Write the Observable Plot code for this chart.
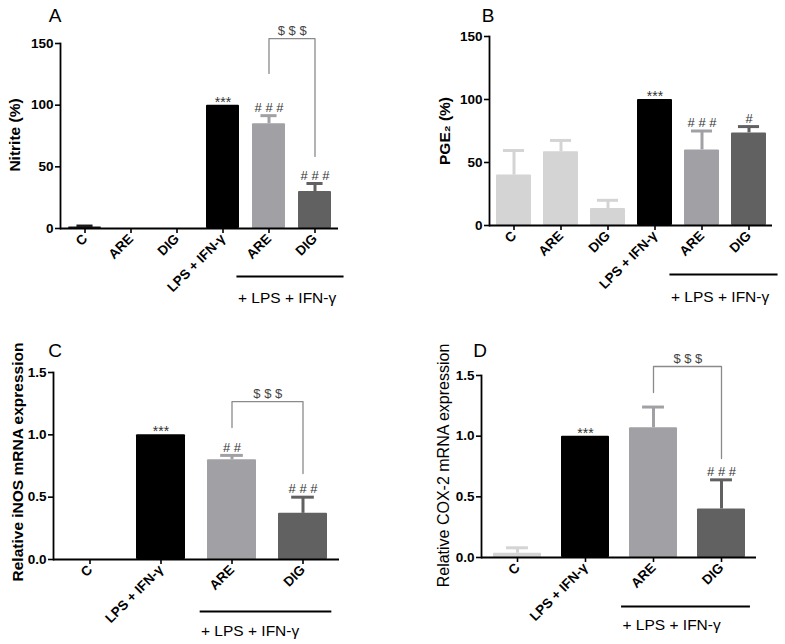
<!DOCTYPE html>
<html><head><meta charset="utf-8">
<script src="https://cdn.jsdelivr.net/npm/d3@7"></script>
<script src="https://cdn.jsdelivr.net/npm/@observablehq/plot@0.6"></script>
<style>
body{margin:0;background:#fff;}
#root{position:relative;width:785px;height:644px;font-family:"Liberation Sans",Arial,sans-serif;overflow:hidden;}
.panel{position:absolute;}
.letter{position:absolute;font-size:19px;line-height:1;transform:translate(-50%,-50%);color:#000;}
</style></head><body><div id="root"></div>
<script>
// ---------- data ----------
const idsSix = ["C","ARE","DIG","LPS","LPS_ARE","LPS_DIG"];
const labelsSix = ["C","ARE","DIG","LPS + IFN-γ","ARE","DIG"];
const idsFour = ["C","LPS","LPS_ARE","LPS_DIG"];
const labelsFour = ["C","LPS + IFN-γ","ARE","DIG"];

const nitriteMean = [1.2, 0, 0, 100, 85, 30];
const nitriteErr  = [0.8, 0, 0, 0, 6.5, 6.5];
const nitriteSig  = ["", "", "", "***", "# # #", "# # #"];
const nitriteColors = ["#1a1a1a","#d4d4d4","#d4d4d4","#000000","#a1a1a5","#616161"];

const pgeMean = [40, 58.5, 13.5, 100, 60, 73.5];
const pgeErr  = [19.5, 9, 6.5, 0, 15, 5];
const pgeSig  = ["", "", "", "***", "# # #", "#"];
const pgeColors = ["#d4d4d4","#d4d4d4","#d4d4d4","#000000","#a1a1a5","#616161"];

const inosMean = [0, 1.0, 0.80, 0.37];
const inosErr  = [0, 0, 0.035, 0.13];
const inosSig  = ["", "***", "# #", "# # #"];
const coxMean = [0.035, 1.0, 1.07, 0.40];
const coxErr  = [0.045, 0, 0.17, 0.24];
const coxSig  = ["", "***", "", "# # #"];
const fourColors = ["#d4d4d4","#000000","#a1a1a5","#616161"];

const compNitrite = {from:"LPS_ARE", to:"LPS_DIG", top:154, leftEnd:125.7, rightEnd:58.4, label:"$ $ $"};
const compInos = {from:"LPS_ARE", to:"LPS_DIG", top:1.267, leftEnd:1.059, rightEnd:0.69, label:"$ $ $"};
const compCox = {from:"LPS_ARE", to:"LPS_DIG", top:1.574, leftEnd:1.36, rightEnd:0.816, label:"$ $ $"};

const groupLabel = "+ LPS + IFN-γ";
const groupFrom = "LPS_ARE", groupTo = "LPS_DIG";

const ticks150 = [0, 50, 100, 150];
const ticks15 = [0, 0.5, 1.0, 1.5];

// ---------- panels ----------
const panels = [
  {letter:"A", lx:55, ly:15, left:0, top:0, width:390, height:310, ml:60, mr:52, mt:43, mb:82,
   ids:idsSix, labels:labelsSix, mean:nitriteMean, err:nitriteErr, sig:nitriteSig, colors:nitriteColors,
   ymax:150, ticks:ticks150, fmt:d3.format("d"), pad:0.29, cap:16, comp:compNitrite,
   title:"Nitrite (%)", titleBold:true, titleDx:-45, titleDy:-1, lineDy:48, textDy:70},
  {letter:"B", lx:488, ly:15, left:390, top:0, width:395, height:310, ml:99, mr:13, mt:36, mb:85,
   ids:idsSix, labels:labelsSix, mean:pgeMean, err:pgeErr, sig:pgeSig, colors:pgeColors,
   ymax:150, ticks:ticks150, fmt:d3.format("d"), pad:0.26, cap:21, comp:null,
   title:"PGE₂ (%)", titleBold:true, titleDx:-44, titleDy:0, lineDy:49, textDy:72},
  {letter:"C", lx:55, ly:350, left:0, top:320, width:390, height:324, ml:53, mr:51, mt:52, mb:85,
   ids:idsFour, labels:labelsFour, mean:inosMean, err:inosErr, sig:inosSig, colors:fourColors,
   ymax:1.5, ticks:ticks15, fmt:d3.format(".1f"), pad:0.31, cap:23, comp:compInos,
   title:"Relative iNOS mRNA expression", titleBold:true, titleDx:-35, titleDy:-4, lineDy:52, textDy:72},
  {letter:"D", lx:480, ly:350, left:390, top:320, width:395, height:324, ml:91, mr:29, mt:55, mb:87,
   ids:idsFour, labels:labelsFour, mean:coxMean, err:coxErr, sig:coxSig, colors:fourColors,
   ymax:1.5, ticks:ticks15, fmt:d3.format(".1f"), pad:0.30, cap:22, comp:compCox,
   title:"Relative COX-2 mRNA expression", titleBold:false, titleDx:-38, titleDy:-1, lineDy:49, textDy:68}
];

const root = document.getElementById("root");

for (const p of panels) {
  const rows = p.ids.map((id, i) => ({id, mean:p.mean[i], err:p.err[i], sig:p.sig[i], color:p.colors[i]}));
  const labelOf = new Map(p.ids.map((id, i) => [id, p.labels[i]]));
  const n = p.ids.length;
  const step = (p.width - p.ml - p.mr) / n;
  const bw = step * (1 - p.pad);
  const capInset = (bw - p.cap) / 2;
  const withErr = rows.filter(d => d.err > 0);
  const marks = [
    Plot.barY(rows.filter(d => d.mean > 0), {x:"id", y:"mean", fill:"color", rx:1}),
    Plot.ruleX(withErr, {x:"id", y1:"mean", y2:d => d.mean + d.err, stroke:"color", strokeWidth:3}),
    Plot.tickY(withErr, {x:"id", y:d => d.mean + d.err, stroke:"color", strokeWidth:3, insetLeft:capInset, insetRight:capInset}),
    Plot.text(rows.filter(d => d.sig.startsWith("#")), {x:"id", y:d => d.mean + d.err, text:"sig", dy:-8, fontSize:13, fill:"#333", fontWeight:"normal"}),
    Plot.text(rows.filter(d => d.sig.startsWith("*")), {x:"id", y:d => d.mean + d.err, text:"sig", dy:-3, fontSize:14, fill:"#333", fontWeight:"normal"}),
    Plot.ruleY([0], {stroke:"#000", strokeWidth:1.8}),
    Plot.frame({anchor:"left", stroke:"#000", strokeWidth:1.8}),
    Plot.axisY({ticks:p.ticks, tickFormat:p.fmt, tickSize:5, tickPadding:2, label:null, fontSize:13.5, fontWeight:"bold", strokeWidth:1.6}),
    Plot.axisX({tickRotate:-45, tickSize:5, tickPadding:3, tickFormat:id => labelOf.get(id), label:null, fontSize:13.5, fontWeight:"bold", strokeWidth:1.6}),
    Plot.text([p.title], {frameAnchor:"left", textAnchor:"middle", rotate:-90, dx:p.titleDx, dy:p.titleDy, text:d => d, fontSize:p.titleBold ? 15.5 : 16, fontWeight:p.titleBold ? "bold" : "normal", fill:"#000"}),
    // treatment group underline and label
    Plot.ruleY([0], {x1:() => groupFrom, x2:() => groupTo, dy:p.lineDy, stroke:"#000", strokeWidth:2, insetLeft:bw/2 - 32, insetRight:bw/2 - 29}),
    Plot.text([groupLabel], {x:() => groupFrom, y:() => 0, dy:p.textDy, dx:-31, text:d => d, textAnchor:"start", fontSize:15.5, fontWeight:"normal", fill:"#000"})
  ];
  if (p.comp) {
    const c = p.comp;
    const pts = [
      {x:c.from, y:c.leftEnd}, {x:c.from, y:c.top}, {x:c.to, y:c.top}, {x:c.to, y:c.rightEnd}
    ];
    marks.push(Plot.line(pts, {x:"x", y:"y", stroke:"#8a8a8a", strokeWidth:1.3}));
    marks.push(Plot.text([c], {x:"from", y:"top", text:"label", dx:step/2, dy:-8, fontSize:13, fill:"#444", fontWeight:"normal"}));
  }
  const svg = Plot.plot({
    width:p.width, height:p.height,
    marginLeft:p.ml, marginRight:p.mr, marginTop:p.mt, marginBottom:p.mb,
    style:{fontFamily:"'Liberation Sans', Arial, sans-serif", background:"#fff", color:"#000", overflow:"visible"},
    x:{type:"band", domain:p.ids, paddingInner:p.pad, paddingOuter:p.pad/2},
    y:{domain:[0, p.ymax]},
    color:{type:"identity"},
    marks
  });
  const wrap = document.createElement("div");
  wrap.className = "panel";
  wrap.style.left = p.left + "px";
  wrap.style.top = p.top + "px";
  wrap.appendChild(svg);
  root.appendChild(wrap);
  const lt = document.createElement("div");
  lt.className = "letter";
  lt.style.left = p.lx + "px";
  lt.style.top = p.ly + "px";
  lt.textContent = p.letter;
  root.appendChild(lt);
}
</script>
</body></html>
